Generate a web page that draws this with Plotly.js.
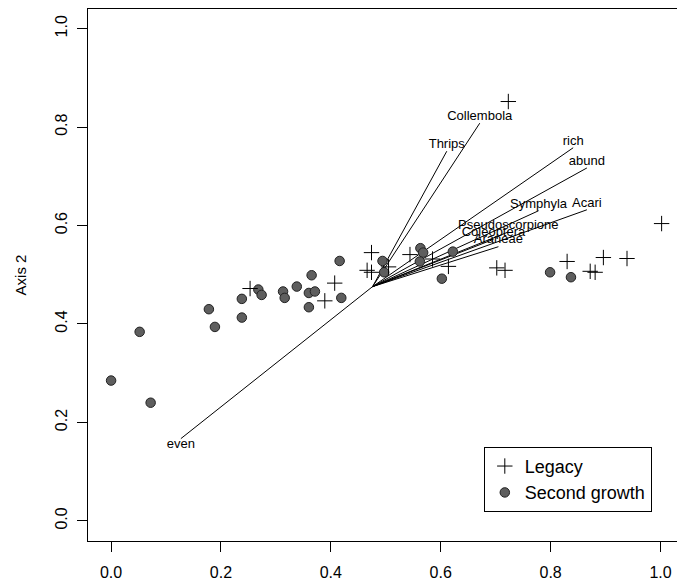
<!DOCTYPE html>
<html>
<head>
<meta charset="utf-8">
<script src="https://cdn.plot.ly/plotly-3.0.1.min.js"></script>
<style>html,body{margin:0;padding:0;background:#fff;}#chart{width:677px;height:588px;}</style>
</head>
<body>
<div id="chart"></div>
<script>
// Legacy sites (+)
const legacyX = [0.253, 0.389, 0.407, 0.474, 0.466, 0.474, 0.505, 0.544, 0.585, 0.614, 0.702, 0.717, 0.723, 0.830, 0.872, 0.881, 0.896, 0.939, 1.002];
const legacyY = [0.472, 0.447, 0.483, 0.545, 0.509, 0.505, 0.516, 0.541, 0.532, 0.517, 0.514, 0.509, 0.852, 0.527, 0.507, 0.505, 0.535, 0.533, 0.604];
// Second growth sites (filled circles)
const secondX = [0.000, 0.052, 0.072, 0.178, 0.189, 0.238, 0.238, 0.268, 0.274, 0.313, 0.316, 0.338, 0.365, 0.360, 0.371, 0.360, 0.416, 0.419, 0.494, 0.497, 0.563, 0.568, 0.562, 0.622, 0.602, 0.799, 0.837];
const secondY = [0.285, 0.384, 0.240, 0.430, 0.394, 0.451, 0.413, 0.470, 0.459, 0.466, 0.453, 0.476, 0.499, 0.463, 0.466, 0.434, 0.528, 0.453, 0.528, 0.505, 0.554, 0.545, 0.527, 0.547, 0.492, 0.505, 0.495];
// Vector origin and endpoints
const originX = 0.476, originY = 0.476;
const vecNames = ["Collembola", "Thrips", "rich", "abund", "Acari", "Symphyla", "Pseudoscorpione", "Coleoptera", "Araneae", "even"];
const vecX = [0.671, 0.611, 0.841, 0.866, 0.866, 0.778, 0.723, 0.696, 0.705, 0.127];
const vecY = [0.808, 0.751, 0.758, 0.717, 0.632, 0.630, 0.587, 0.572, 0.557, 0.167];
const xTicks = [0.0, 0.2, 0.4, 0.6, 0.8, 1.0];
const yTicks = [0.0, 0.2, 0.4, 0.6, 0.8, 1.0];

const font = "Liberation Sans, Arial, sans-serif";
const traces = [];
// vector lines
const lx = [], ly = [];
for (let i = 0; i < vecNames.length; i++) {
  lx.push(originX, vecX[i], null);
  ly.push(originY, vecY[i], null);
}
traces.push({x: lx, y: ly, mode: "lines", line: {color: "#000", width: 1}, showlegend: false, hoverinfo: "skip"});
traces.push({
  x: vecX, y: vecY, text: vecNames, mode: "text",
  textposition: vecNames.map(n => n === "even" ? "bottom center" : "top center"),
  textfont: {family: font, size: 13, color: "#000"},
  showlegend: false, hoverinfo: "skip"
});
traces.push({
  x: secondX, y: secondY, mode: "markers", name: "Second growth",
  marker: {symbol: "circle", size: 9.5, color: "#5e5e5e", line: {color: "#222", width: 1}}
});
traces.push({
  x: legacyX, y: legacyY, mode: "markers", name: "Legacy",
  marker: {symbol: "cross-thin-open", size: 11, color: "#000", line: {color: "#000", width: 1}}
});

const layout = {
  width: 677, height: 588,
  margin: {l: 88, r: 0, t: 9, b: 47},
  paper_bgcolor: "#fff", plot_bgcolor: "#fff",
  font: {family: font, color: "#000"},
  showlegend: true,
  legend: {
    traceorder: "reversed",
    x: 0.672, y: 0.177, xanchor: "left", yanchor: "top",
    bordercolor: "#000", borderwidth: 1, bgcolor: "#fff",
    font: {family: font, size: 18, color: "#000"},
    itemwidth: 30
  },
  xaxis: {
    range: [-0.042, 1.030], tickvals: xTicks, ticktext: xTicks.map(v => v.toFixed(1)),
    showgrid: false, zeroline: false, showline: true, mirror: true, linecolor: "#000", linewidth: 1,
    ticks: "outside", ticklen: 10, tickcolor: "#000",
    tickfont: {family: font, size: 16, color: "#000"}, ticklabelstandoff: 7
  },
  yaxis: {
    range: [-0.041, 1.04], tickvals: yTicks, ticktext: yTicks.map(v => v.toFixed(1)),
    showgrid: false, zeroline: false, showline: true, mirror: false, linecolor: "#000", linewidth: 1,
    ticks: "outside", ticklen: 10, tickcolor: "#000", tickangle: -90,
    tickfont: {family: font, size: 16, color: "#000"}, ticklabelstandoff: 4,
    title: {text: "Axis 2", font: {family: font, size: 15, color: "#000"}, standoff: 22}
  }
};
Plotly.newPlot("chart", traces, layout, {displayModeBar: false, staticPlot: true});
</script>
</body>
</html>
